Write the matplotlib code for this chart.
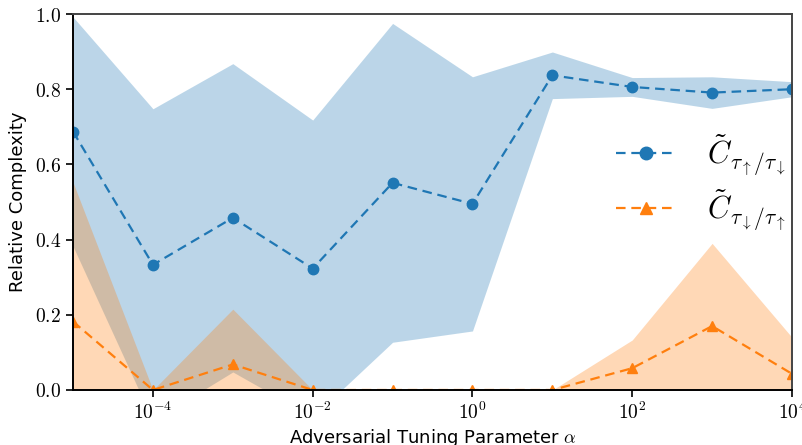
import matplotlib
matplotlib.use("Agg")
import matplotlib.pyplot as plt
import numpy as np

plt.rcParams['mathtext.fontset'] = 'cm'
plt.rcParams['font.family'] = ['DejaVu Sans']

# adversarial tuning parameter values
alpha = [1e-5, 1e-4, 1e-3, 1e-2, 1e-1, 1e0, 1e1, 1e2, 1e3, 1e4]

# relative complexity, up/down
up_mean = [0.687, 0.333, 0.458, 0.323, 0.551, 0.495, 0.837, 0.806, 0.791, 0.800]
up_std = [0.305, 0.415, 0.410, 0.395, 0.424, 0.338, 0.062, 0.025, 0.042, 0.020]

# relative complexity, down/up
down_mean = [0.182, 0.0, 0.068, 0.0, 0.0, 0.0, 0.0, 0.058, 0.170, 0.043]
down_std = [0.370, 0.0, 0.147, 0.0, 0.0, 0.0, 0.0, 0.075, 0.220, 0.097]

yticks = [0.0, 0.2, 0.4, 0.6, 0.8, 1.0]
xticks = [1e-4, 1e-2, 1e0, 1e2, 1e4]
xticklabels = [r'$10^{-4}$', r'$10^{-2}$', r'$10^{0}$', r'$10^{2}$', r'$10^{4}$']

fig = plt.figure(figsize=(8.03, 4.45), dpi=100)
ax = fig.add_axes([0.091, 0.1236, 0.8953, 0.8449])

a = np.array(alpha)
um, us = np.array(up_mean), np.array(up_std)
dm, ds = np.array(down_mean), np.array(down_std)

ax.fill_between(a, um - us, um + us, color='tab:blue', alpha=0.3, lw=0)
ax.fill_between(a, dm - ds, dm + ds, color='tab:orange', alpha=0.3, lw=0)

# dashed lines with longer dashes, like the original
ax.plot(a, um, '--o', color='tab:blue', markersize=7.5, lw=1.6,
        dashes=(4.3, 2.6),
        label=r'$\tilde{C}_{\tau_\uparrow/\tau_\downarrow}$')
ax.plot(a, dm, '--^', color='tab:orange', markersize=7.5, lw=1.6,
        dashes=(4.3, 2.6),
        label=r'$\tilde{C}_{\tau_\downarrow/\tau_\uparrow}$')

ax.set_xscale('log')
ax.set_xlim(1e-5, 1e4)
ax.set_ylim(0, 1)
ax.set_xticks(xticks)
ax.set_xticklabels(xticklabels)
ax.minorticks_off()
ax.set_yticks(yticks)
ax.set_yticklabels([r'$%.1f$' % v for v in yticks])
ax.tick_params(labelsize=14, length=5, width=1.2, color='black')

for side in ['left', 'bottom']:
    ax.spines[side].set_color('black')
    ax.spines[side].set_linewidth(1.4)
for side in ['top', 'right']:
    ax.spines[side].set_color('#444444')
    ax.spines[side].set_linewidth(1.4)

ax.set_xlabel(r'Adversarial Tuning Parameter $\alpha$', fontsize=13, labelpad=3)
ax.set_ylabel('Relative Complexity', fontsize=13, labelpad=6)

ax.legend(loc='center right', bbox_to_anchor=(1.03, 0.552), frameon=False,
          fontsize=22, handlelength=2.0, labelspacing=0.3, handletextpad=1.0,
          markerscale=1.2)

fig.savefig('out.png', dpi=100)
